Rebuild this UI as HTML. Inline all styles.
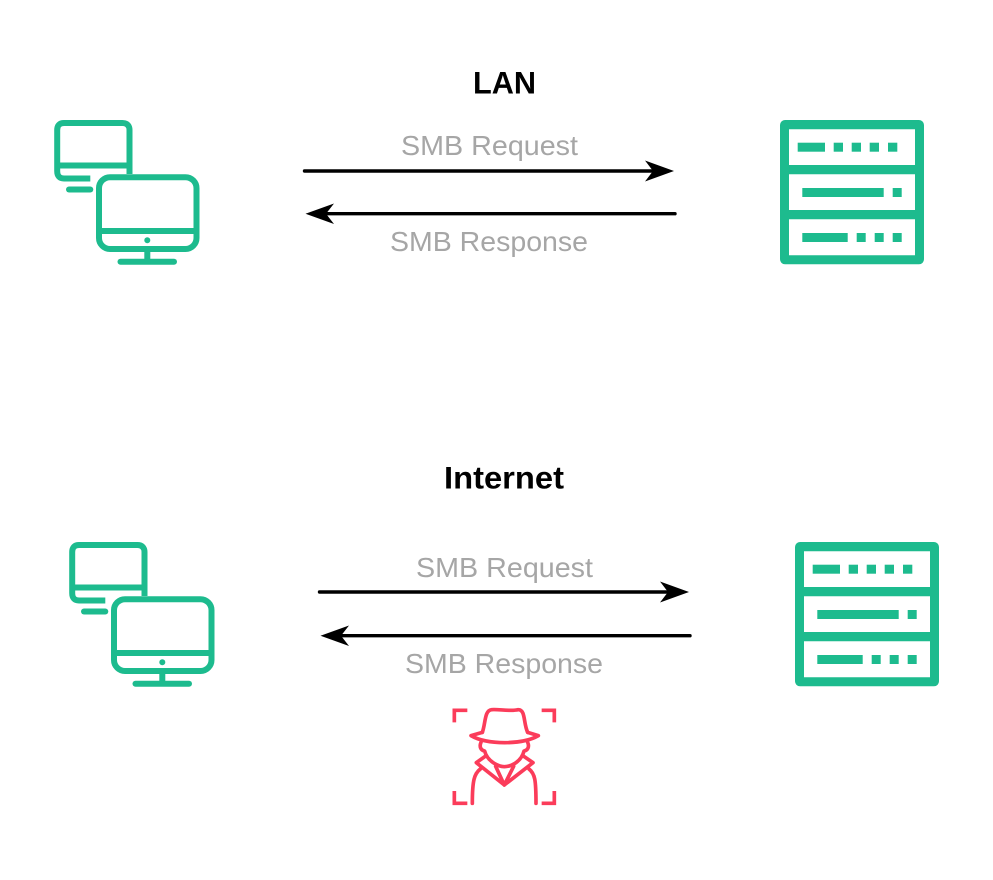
<!DOCTYPE html>
<html>
<head>
<meta charset="utf-8">
<style>
html,body{margin:0;padding:0;background:#fff;width:993px;height:880px;overflow:hidden}
svg{display:block}
.l{font-family:"Liberation Sans",Arial,sans-serif;font-size:28px;fill:#a6a6a6}
.t{font-family:"Liberation Sans",Arial,sans-serif;font-size:31.5px;font-weight:bold;fill:#000}
</style>
</head>
<body>
<svg width="993" height="880" viewBox="0 0 993 880" xmlns="http://www.w3.org/2000/svg">
<defs>
<g id="pc" fill="none" stroke="#1dbb8e" stroke-width="6">
<path d="M129.500 174V130C129.500 125.500 127 123 122.500 123H64C59.500 123 57.200 125.500 57.200 130V171C57.200 176 59.500 178.500 64 178.500H90.300"/>
<path d="M57.200 165.500H129.500" />
<path d="M69 189.500H90.300" stroke-linecap="round"/>
<path d="M90.300 189.500H84" />
<rect x="99" y="177.200" width="97.500" height="71.800" rx="11" fill="#fff"/>
<path d="M99 231H196.500"/>
<path d="M147.300 249V261"/>
<path d="M120.500 261.700H174" stroke-linecap="round"/>
<circle cx="147.300" cy="240.300" r="3" fill="#1dbb8e" stroke="none"/>
</g>
<g id="srv" fill="#1dbb8e">
<path fill-rule="evenodd" d="M785 120H919a5 5 0 0 1 5 5V259.300a5 5 0 0 1-5 5H785a5 5 0 0 1-5-5V125a5 5 0 0 1 5-5ZM789 129.300V165H915V129.300ZM789 174.300V210H915V174.300ZM789 219.300V255.300H915V219.300Z"/>
<rect x="797.700" y="142.700" width="27.300" height="9"/>
<rect x="833.700" y="142.700" width="9.300" height="9"/>
<rect x="851.700" y="142.700" width="9.300" height="9"/>
<rect x="869.700" y="142.700" width="9.300" height="9"/>
<rect x="888" y="142.700" width="9.300" height="9"/>
<rect x="802.300" y="188" width="81.400" height="9"/>
<rect x="892.700" y="188" width="9" height="9"/>
<rect x="802.300" y="233" width="45.400" height="9"/>
<rect x="856.700" y="233" width="9" height="9"/>
<rect x="874.700" y="233" width="9" height="9"/>
<rect x="892.700" y="233" width="9" height="9"/>
</g>
</defs>

<text class="t" x="473" y="93.500" textLength="63" lengthAdjust="spacingAndGlyphs">LAN</text>
<use href="#pc"/>
<use href="#srv"/>
<text class="l" x="401" y="155" textLength="177" lengthAdjust="spacingAndGlyphs">SMB Request</text>
<text class="l" x="390" y="251" textLength="198" lengthAdjust="spacingAndGlyphs">SMB Response</text>
<path d="M304.500 171H660" stroke="#000" stroke-width="3.400" stroke-linecap="round"/>
<path d="M674 171L645 160.500L653 171L645 181.500Z" fill="#000"/>
<path d="M675 213.700H320" stroke="#000" stroke-width="3.400" stroke-linecap="round"/>
<path d="M305.500 213.700L334 203.500L326 213.700L334 224Z" fill="#000"/>

<text class="t" x="444" y="488.500" textLength="120" lengthAdjust="spacingAndGlyphs">Internet</text>
<use href="#pc" transform="translate(15 422)"/>
<use href="#srv" transform="translate(15 422)"/>
<text class="l" x="416" y="577" textLength="177" lengthAdjust="spacingAndGlyphs">SMB Request</text>
<text class="l" x="405" y="673" textLength="198" lengthAdjust="spacingAndGlyphs">SMB Response</text>
<path d="M319.500 592H675" stroke="#000" stroke-width="3.400" stroke-linecap="round"/>
<path d="M689 592L660 581.500L668 592L660 602.500Z" fill="#000"/>
<path d="M690 635.700H335" stroke="#000" stroke-width="3.400" stroke-linecap="round"/>
<path d="M320.500 635.700L349 625.500L341 635.700L349 646Z" fill="#000"/>

<g transform="translate(435 695) scale(.3333)" fill="none" stroke="#fb3c5a" stroke-width="11" stroke-linejoin="round" stroke-linecap="round">
<path stroke-linecap="butt" stroke-linejoin="miter" d="M58 82V46H97M320 46H358V82M58 288V325H97M320 325H358V288"/>
<path d="M142 112C152 85 148 46 170 44C190 42 228 50 250 44C272 44 265 85 278 112"/>
<path d="M142 112L108 122C156 150 262 150 310 122L278 112"/>
<path d="M138 142C132 156 138 166 149 168C156 198 190 215 208 215C230 215 260 198 267 168C278 166 284 156 278 142"/>
<path d="M152 183L124 203L208 270L294 203L265 183"/>
<path d="M182 214L208 270L236 214"/>
<path d="M136 222C118 236 112 255 112 325M282 222C300 236 303 255 303 325"/>
</g>
</svg>
</body>
</html>
